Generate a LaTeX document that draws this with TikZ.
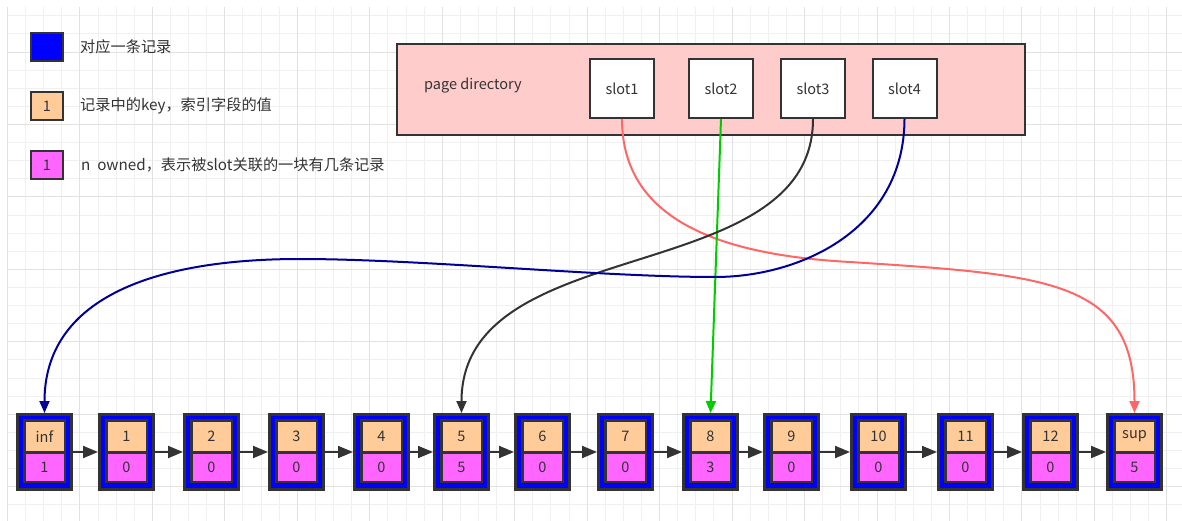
\documentclass[tikz,border=0pt]{standalone}
\usepackage{fontspec}
\setmainfont{Noto Sans CJK SC}
\usetikzlibrary{arrows.meta}
\definecolor{keyc}{HTML}{FFCC99}
\definecolor{ownc}{HTML}{FF66FF}
\definecolor{pdc}{HTML}{FFCCCC}
\definecolor{edge}{HTML}{333333}
\definecolor{redl}{HTML}{FF6666}
\definecolor{greenl}{HTML}{00CC00}
\definecolor{bluel}{HTML}{000099}
\definecolor{gridc}{HTML}{F0F0F0}
\definecolor{gridd}{HTML}{E2E2E2}

\begin{document}
\begin{tikzpicture}[x=1pt,y=-1pt,font=\fontsize{14.5}{16}\selectfont,text=edge]
\tikzstyle{rec}=[draw=edge,line width=3pt,fill=blue,minimum width=54pt,minimum height=75pt,inner sep=0pt]
\tikzstyle{key}=[draw=edge,line width=2.5pt,fill=keyc,minimum width=40.5pt,minimum height=32pt,inner sep=0pt]
\tikzstyle{own}=[key,fill=ownc,minimum height=29.5pt]
\tikzstyle{legend}=[draw=edge,line width=2pt,minimum width=32pt,minimum height=28pt,inner sep=0pt]
\tikzstyle{slot}=[draw=edge,line width=2pt,fill=white,minimum width=64pt,minimum height=59pt,inner sep=0pt]
\tikzstyle{label}=[anchor=west,inner sep=0pt,font=\fontsize{15.2}{17}\selectfont]
\tikzstyle{next}=[draw=edge,line width=2pt,-{Triangle[length=15pt,width=12pt]}]
\tikzstyle{ptr}=[line width=2pt,-{Triangle[length=12pt,width=10pt]}]
\useasboundingbox (0,0) rectangle (1182,521);
% grid
\foreach \x in {0,...,64} \draw[gridc,line width=1pt] (7.5+\x*18.115,7) -- (7.5+\x*18.115,521);
\foreach \y in {0,...,27} \draw[gridc,line width=1pt] (7.5,15.8+\y*18.115) -- (1182,15.8+\y*18.115);
\foreach \x in {0,4,...,64} \draw[gridd,line width=1pt] (7.5+\x*18.115,7) -- (7.5+\x*18.115,521);
\foreach \y in {2,6,...,26} \draw[gridd,line width=1pt] (7.5,15.8+\y*18.115) -- (1182,15.8+\y*18.115);
% legend
\node (LB) [legend,fill=blue] at (47,47) {};
\node (LK) [legend,fill=keyc] at (47,106) {1};
\node (LN) [legend,fill=ownc] at (47,165) {1};
\node (TB) [label] at (80,47) {对应一条记录};
\node (TK) [label] at (80,106) {记录中的key，索引字段的值};
\node (TN) [label] at (81,165) {n\ \ owned，表示被slot关联的一块有几条记录};
% page directory
\node (PD) [draw=edge,line width=2.5pt,fill=pdc,minimum width=628pt,minimum height=91pt,inner sep=0pt] at (711,89.5) {};
\node (PT) [label,font=\fontsize{14.5}{16}\selectfont] at (424,86) {page directory};
\node (S1) [slot] at (622,88.5) {slot1};
\node (S2) [slot] at (721,88.5) {slot2};
\node (S3) [slot] at (813,88.5) {slot3};
\node (S4) [slot] at (904.5,88.5) {slot4};
% records
\foreach \x/\k/\n [count=\i from 0] in {44.5/inf/1,126.5/1/0,211.5/2/0,296.5/3/0,381.5/4/0,461.5/5/5,542.5/6/0,625.5/7/0,710.5/8/3,791.5/9/0,878.5/10/0,965.5/11/0,1050.5/12/0,1134.5/sup/5} {
  \node (R\i) [rec] at (\x,452) {};
  \node (K\i) [key] at (\x,436.5) {\k};
  \node (N\i) [own] at (\x,467.25) {\n};
}
\foreach \i [count=\j] in {0,...,12} \draw[next] (R\i.east) -- (R\j.west);
% slots to records
\draw[ptr,redl] (S1.south) .. controls (622,220) and (720,255) .. (850,262) .. controls (1050,275) and (1134.5,280) .. (R13.north);
\draw[ptr,greenl] (S2.south) -- (R8.north);
\draw[ptr,edge] (S3.south) .. controls (813,290) and (461.5,230) .. (R5.north);
\draw[ptr,bluel] (S4.south) .. controls (904,230) and (800,277) .. (715,277) .. controls (600,277) and (420,259) .. (300,259) .. controls (150,259) and (44.5,300) .. (R0.north);
\end{tikzpicture}
\end{document}
